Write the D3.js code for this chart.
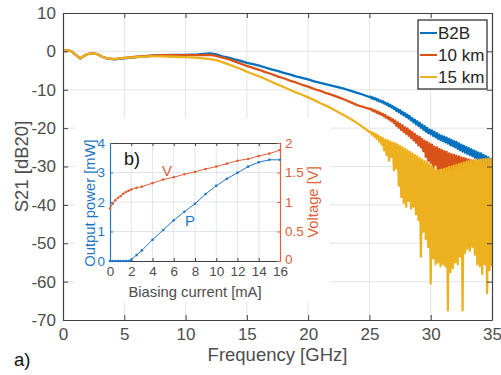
<!DOCTYPE html>
<html>
<head>
<meta charset="utf-8">
<script src="https://cdn.jsdelivr.net/npm/d3@7"></script>
<style>
body { margin: 0; background: #fff; }
svg { display: block; }
text { font-family: "Liberation Sans", Arial, sans-serif; }
</style>
</head>
<body>
<div id="chart"></div>
<script>
// ---- main plot data (S21 vs frequency) ----
const seriesNames = ['B2B', '10 km', '15 km'];
const seriesColors = ['#0072BD', '#D95319', '#EDB120'];

const freqLow = [0, 0.3, 0.7, 1.0, 1.4, 1.7, 2.0, 2.4, 2.8, 3.2, 3.6, 4.2, 5, 6, 7, 8, 9, 10, 11, 12, 12.5, 13, 13.5, 14, 14.5,
    15, 15.5, 16, 16.5, 17, 17.5, 18, 18.5, 19, 19.5, 20, 20.5, 21, 21.5, 22, 22.5, 23, 23.5, 24, 24.5, 25];
const b2bLow = [0.2, 0.3, 0, -0.8, -1.9, -1.2, -0.7, -0.5, -0.7, -1.4, -1.9, -2.1, -1.8, -1.5, -1.2, -1.0, -0.9, -0.9, -0.8, -0.5, -0.8, -1.3, -1.6, -2.1, -2.5,
    -3.0, -3.3, -3.7, -4.2, -4.7, -5.1, -5.6, -6.0, -6.5, -6.9, -7.3, -7.8, -8.2, -8.6, -9.0, -9.4, -9.8, -10.3, -10.8, -11.3, -11.9];
const km10Low = [0.2, 0.3, 0, -0.8, -1.8, -1.2, -0.7, -0.5, -0.7, -1.4, -1.8, -2.0, -1.7, -1.4, -1.2, -1.0, -1.0, -1.0, -1.0, -0.9, -1.2, -1.6, -2.0, -2.6, -3.2,
    -3.8, -4.3, -4.8, -5.4, -5.9, -6.5, -7.0, -7.6, -8.1, -8.7, -9.2, -9.8, -10.3, -10.9, -11.4, -12.0, -12.6, -13.3, -14.0, -14.5, -15.0];
const km15Low = [0.2, 0.3, 0, -0.8, -1.8, -1.2, -0.7, -0.5, -0.7, -1.4, -1.8, -2.0, -1.7, -1.5, -1.3, -1.3, -1.4, -1.5, -1.7, -2.0, -2.3, -2.8, -3.4, -4.0, -4.6,
    -5.3, -5.9, -6.5, -7.2, -7.9, -8.6, -9.3, -10.0, -10.7, -11.3, -12.0, -12.7, -13.5, -14.2, -15.0, -15.9, -16.8, -17.7, -18.7, -19.8, -21.0];

// 25.1 .. 35.0 GHz, 0.1 GHz measurement grid (noisy part)
const freqHigh = d3.range(251, 351).map(d => d / 10);
const b2bHigh = [
    -11.8, -12.3, -12.0, -12.5, -12.2, -12.8, -12.5, -13.0, -12.8, -13.3,
    -13.0, -13.6, -13.3, -13.9, -13.6, -14.3, -13.9, -14.6, -14.3, -15.0,
    -14.6, -15.5, -15.0, -15.9, -15.3, -16.3, -15.8, -16.7, -16.1, -17.1,
    -16.5, -17.5, -16.9, -18.0, -17.4, -18.5, -17.8, -19.0, -18.2, -19.4,
    -18.6, -19.9, -19.1, -20.4, -19.5, -20.9, -19.9, -21.3, -20.4, -21.6,
    -20.6, -22.0, -21.0, -22.4, -21.3, -22.8, -21.7, -23.1, -22.0, -23.4,
    -22.2, -23.7, -22.5, -24.0, -22.8, -24.4, -23.1, -24.7, -23.4, -25.0,
    -23.6, -25.4, -24.0, -25.8, -24.3, -26.1, -24.6, -26.4, -24.9, -26.7,
    -25.2, -27.0, -25.5, -27.3, -25.8, -27.7, -26.1, -28.0, -26.4, -28.3,
    -26.6, -28.7, -27.0, -29.1, -27.3, -29.5, -27.6, -29.9, -28.0, -30.3];
const km10High = [
    -14.9, -15.4, -15.2, -15.7, -15.4, -16.0, -15.7, -16.3, -16.0, -16.6,
    -16.3, -17.0, -16.6, -17.4, -17.0, -17.8, -17.3, -18.2, -17.7, -18.7,
    -18.0, -19.4, -18.5, -19.9, -18.9, -20.5, -19.3, -21.0, -19.8, -21.5,
    -20.1, -22.0, -20.6, -22.6, -21.0, -23.2, -21.5, -23.8, -22.0, -24.5,
    -22.3, -25.0, -22.8, -26.0, -23.3, -27.5, -23.6, -28.5, -24.0, -29.0,
    -24.3, -31.5, -24.8, -29.5, -25.0, -33.0, -25.4, -30.5, -25.7, -32.0,
    -26.0, -31.5, -26.2, -33.5, -26.6, -31.0, -26.8, -34.0, -27.0, -32.5,
    -27.2, -34.5, -27.4, -32.0, -27.6, -35.5, -27.8, -33.0, -28.0, -34.5,
    -28.2, -33.5, -28.4, -36.0, -28.5, -34.0, -28.7, -35.0, -28.9, -36.5,
    -29.0, -34.0, -29.2, -36.0, -29.4, -35.0, -29.6, -37.0, -29.8, -46.0];
const km15High = [
    -20.9, -21.7, -21.2, -22.2, -21.5, -22.8, -21.9, -23.5, -22.3, -24.3,
    -22.6, -25.8, -23.0, -27.0, -23.2, -28.5, -23.5, -27.5, -23.8, -31.0,
    -24.0, -30.5, -24.3, -35.0, -24.6, -38.0, -25.0, -39.5, -25.4, -40.5,
    -25.8, -39.0, -26.2, -41.0, -26.6, -40.5, -27.0, -42.5, -27.4, -44.0,
    -27.8, -53.5, -28.2, -47.0, -28.6, -49.0, -29.0, -51.0, -29.4, -60.5,
    -30.0, -54.0, -30.5, -55.5, -31.0, -55.0, -31.0, -56.0, -30.8, -55.5,
    -30.6, -56.0, -30.4, -67.5, -30.2, -57.5, -30.0, -56.5, -29.8, -55.0,
    -29.6, -55.5, -29.4, -53.5, -29.2, -67.5, -29.0, -52.5, -28.8, -51.5,
    -28.6, -52.0, -28.5, -51.0, -28.4, -53.0, -28.3, -55.5, -28.2, -56.0,
    -28.2, -58.0, -28.1, -55.5, -28.0, -63.0, -28.0, -57.0, -28.1, -56.0];

const xTicks = [0, 5, 10, 15, 20, 25, 30, 35];
const yTicks = [-70, -60, -50, -40, -30, -20, -10, 0, 10];
const yTickLabels = ['-70', '-60', '-50', '-40', '-30', '-20', '-10', '0', '10'];

// ---- inset data (L-I-V) ----
const biasCurrent = [0, 0.25, 0.5, 0.75, 1, 1.25, 1.5, 1.75, 2, 2.5, 3, 4, 5, 6, 7, 8, 9, 10, 11, 12, 13, 14, 15, 16];
const outputPower = [0, 0, 0, 0, 0, 0, 0, 0, 0.04, 0.2, 0.36, 0.72, 1.05, 1.38, 1.67, 1.94, 2.27, 2.55, 2.79, 2.99, 3.2, 3.35, 3.43, 3.43];
const voltage = [0.89, 0.97, 1.03, 1.07, 1.10, 1.14, 1.17, 1.19, 1.21, 1.24, 1.26, 1.32, 1.38, 1.42, 1.47, 1.51, 1.56, 1.60, 1.65, 1.70, 1.73, 1.78, 1.82, 1.88];
const insetXTicks = [0, 2, 4, 6, 8, 10, 12, 14, 16];
const insetPTicks = [0, 1, 2, 3, 4];
const insetVTicks = [0, 0.5, 1, 1.5, 2];

let width = 501;
let height = 375;
let svg = d3.select('#chart')
    .append('svg')
    .attr('width', width)
    .attr('height', height);

let axisColor = '#404040';
let labelColor = '#4d4d4d';
let gridColor = '#e4e4e4';

let xScale = d3.scaleLinear().domain([0, 35]).range([63, 492]);
let yScale = d3.scaleLinear().domain([-70, 10]).range([320, 13]);

// grid
let grid = svg.append('g').classed('grid', true);
grid.selectAll('.gx').data(xTicks.slice(1, -1)).enter().append('line')
    .attr('x1', d => xScale(d)).attr('x2', d => xScale(d))
    .attr('y1', yScale(10)).attr('y2', yScale(-70))
    .attr('stroke', gridColor).attr('stroke-width', 1);
grid.selectAll('.gy').data(yTicks.slice(1, -1)).enter().append('line')
    .attr('x1', xScale(0)).attr('x2', xScale(35))
    .attr('y1', d => yScale(d)).attr('y2', d => yScale(d))
    .attr('stroke', gridColor).attr('stroke-width', 1);

// series
svg.append('clipPath').attr('id', 'plotClip')
    .append('rect')
    .attr('x', xScale(0)).attr('y', yScale(10))
    .attr('width', xScale(35) - xScale(0)).attr('height', yScale(-70) - yScale(10));

let lowValues = [b2bLow, km10Low, km15Low];
let highValues = [b2bHigh, km10High, km15High];
let series = seriesNames.map((name, i) => ({
    name: name,
    color: seriesColors[i],
    points: freqLow.map((f, j) => [f, lowValues[i][j]])
        .concat(freqHigh.map((f, j) => [f, highValues[i][j]]))
}));

let lineGenerator = d3.line()
    .x(d => xScale(d[0]))
    .y(d => yScale(d[1]));

svg.append('g')
    .attr('clip-path', 'url(#plotClip)')
    .selectAll('path')
    .data(series)
    .enter()
    .append('path')
    .attr('d', d => lineGenerator(d.points))
    .attr('fill', 'none')
    .attr('stroke', d => d.color)
    .attr('stroke-width', 2.3)
    .attr('stroke-linejoin', 'round');

// axes
function styleAxis(g, fontSize) {
    g.select('.domain').attr('stroke', axisColor).attr('stroke-width', 1.2);
    g.selectAll('.tick line').attr('stroke', axisColor);
    g.selectAll('.tick text').attr('fill', labelColor).style('font-size', fontSize + 'px')
        .style('font-family', '"Liberation Sans", Arial, sans-serif');
}

let xAxis = d3.axisBottom(xScale).tickValues(xTicks).tickFormat(d3.format('d'))
    .tickSizeInner(-5).tickSizeOuter(0).tickPadding(8);
svg.append('g').attr('transform', `translate(0,${yScale(-70)})`).call(xAxis).call(g => styleAxis(g, 17));

let xAxisTop = d3.axisTop(xScale).tickValues(xTicks).tickFormat('')
    .tickSizeInner(-5).tickSizeOuter(0);
svg.append('g').attr('transform', `translate(0,${yScale(10)})`).call(xAxisTop).call(g => styleAxis(g, 17));

let yAxis = d3.axisLeft(yScale).tickValues(yTicks).tickFormat((d, i) => yTickLabels[i])
    .tickSizeInner(-5).tickSizeOuter(0).tickPadding(7);
svg.append('g').attr('transform', `translate(${xScale(0)},0)`).call(yAxis).call(g => styleAxis(g, 17));

let yAxisRight = d3.axisRight(yScale).tickValues(yTicks).tickFormat('')
    .tickSizeInner(-5).tickSizeOuter(0);
svg.append('g').attr('transform', `translate(${xScale(35)},0)`).call(yAxisRight).call(g => styleAxis(g, 17));

// axis labels
svg.append('text')
    .attr('x', (xScale(0) + xScale(35)) / 2).attr('y', 361)
    .attr('text-anchor', 'middle').attr('fill', labelColor)
    .style('font-size', '18.5px')
    .text('Frequency [GHz]');
svg.append('text')
    .attr('transform', `translate(28,${(yScale(10) + yScale(-70)) / 2}) rotate(-90)`)
    .attr('text-anchor', 'middle').attr('fill', labelColor)
    .style('font-size', '18.5px')
    .text('S21 [dB20]');
svg.append('text')
    .attr('x', 14).attr('y', 366)
    .attr('fill', '#111').style('font-size', '18.5px')
    .text('a)');

// legend
let legend = svg.append('g').classed('legend', true);
legend.append('rect')
    .attr('x', 418).attr('y', 20).attr('width', 69).attr('height', 69)
    .attr('fill', '#fff').attr('stroke', '#262626').attr('stroke-width', 1.2);
let legendItems = legend.selectAll('.item').data(series).enter().append('g')
    .attr('transform', (d, i) => `translate(0,${33 + i * 22})`);
legendItems.append('line')
    .attr('x1', 420).attr('x2', 437).attr('y1', 0).attr('y2', 0)
    .attr('stroke', d => d.color).attr('stroke-width', 2);
legendItems.append('text')
    .attr('x', 438).attr('y', 6)
    .attr('fill', '#262626').style('font-size', '17px')
    .text(d => d.name);

// ---- inset ----
let inset = svg.append('g').classed('inset', true);
inset.append('rect')
    .attr('x', 75).attr('y', 118).attr('width', 255).attr('height', 184)
    .attr('fill', '#fff');

let ix = d3.scaleLinear().domain([0, 16]).range([110, 280]);
let iyP = d3.scaleLinear().domain([0, 4]).range([261, 143]);
let iyV = d3.scaleLinear().domain([0, 2]).range([261, 143]);
let blue = '#1f77c4';
let orange = '#E0603A';
let insetGrid = '#dfe5ee';

inset.selectAll('.igx').data(insetXTicks.slice(1, -1)).enter().append('line')
    .attr('x1', d => ix(d)).attr('x2', d => ix(d)).attr('y1', iyP(4)).attr('y2', iyP(0))
    .attr('stroke', insetGrid);
inset.selectAll('.igy').data(insetPTicks.slice(1, -1)).enter().append('line')
    .attr('x1', ix(0)).attr('x2', ix(16)).attr('y1', d => iyP(d)).attr('y2', d => iyP(d))
    .attr('stroke', insetGrid);

let ixAxis = d3.axisBottom(ix).tickValues(insetXTicks).tickFormat(d3.format('d'))
    .tickSizeInner(-3).tickSizeOuter(0).tickPadding(5);
inset.append('g').attr('transform', `translate(0,${iyP(0)})`).call(ixAxis).call(g => styleAxis(g, 13.5));
let ixAxisTop = d3.axisTop(ix).tickValues(insetXTicks).tickFormat('')
    .tickSizeInner(-3).tickSizeOuter(0);
inset.append('g').attr('transform', `translate(0,${iyP(4)})`).call(ixAxisTop).call(g => styleAxis(g, 13.5));

let iyAxisL = d3.axisLeft(iyP).tickValues(insetPTicks).tickFormat(d3.format('d'))
    .tickSizeInner(-3).tickSizeOuter(0).tickPadding(5);
inset.append('g').attr('transform', `translate(${ix(0)},0)`).call(iyAxisL)
    .call(g => {
        styleAxis(g, 13.5);
        g.select('.domain').attr('stroke', blue);
        g.selectAll('.tick line').attr('stroke', blue);
        g.selectAll('.tick text').attr('fill', blue);
    });
let iyAxisR = d3.axisRight(iyV).tickValues(insetVTicks).tickFormat(d => d3.format('')(d))
    .tickSizeInner(-3).tickSizeOuter(0).tickPadding(5);
inset.append('g').attr('transform', `translate(${ix(16)},0)`).call(iyAxisR)
    .call(g => {
        styleAxis(g, 13.5);
        g.select('.domain').attr('stroke', orange);
        g.selectAll('.tick line').attr('stroke', orange);
        g.selectAll('.tick text').attr('fill', orange);
        g.selectAll('.tick text').filter(d => d === 0).attr('dy', '0.2em');
    });

let pLine = d3.line().x((d, i) => ix(biasCurrent[i])).y(d => iyP(d));
let vLine = d3.line().x((d, i) => ix(biasCurrent[i])).y(d => iyV(d));
inset.append('path').attr('d', pLine(outputPower))
    .attr('fill', 'none').attr('stroke', blue).attr('stroke-width', 1);
inset.append('path').attr('d', vLine(voltage))
    .attr('fill', 'none').attr('stroke', orange).attr('stroke-width', 1);
inset.selectAll('.pdot').data(outputPower).enter().append('circle')
    .attr('cx', (d, i) => ix(biasCurrent[i])).attr('cy', d => iyP(d)).attr('r', 1.3)
    .attr('fill', blue);
inset.selectAll('.vdot').data(voltage).enter().append('circle')
    .attr('cx', (d, i) => ix(biasCurrent[i])).attr('cy', d => iyV(d)).attr('r', 1.3)
    .attr('fill', orange);

inset.append('text')
    .attr('x', (ix(0) + ix(16)) / 2).attr('y', 297)
    .attr('text-anchor', 'middle').attr('fill', labelColor).style('font-size', '14.8px')
    .text('Biasing current [mA]');
inset.append('text')
    .attr('transform', `translate(95,${(iyP(0) + iyP(4)) / 2 + 1}) rotate(-90)`)
    .attr('text-anchor', 'middle').attr('fill', blue).style('font-size', '14.8px')
    .text('Output power [mW]');
inset.append('text')
    .attr('transform', `translate(318,${(iyP(0) + iyP(4)) / 2}) rotate(-90)`)
    .attr('text-anchor', 'middle').attr('fill', orange).style('font-size', '14.8px')
    .text('Voltage [V]');
inset.append('text')
    .attr('x', 124).attr('y', 165)
    .attr('fill', '#111').style('font-size', '18px')
    .text('b)');
inset.append('text')
    .attr('x', 167).attr('y', 176).attr('text-anchor', 'middle')
    .attr('fill', orange).style('font-size', '15px')
    .text('V');
inset.append('text')
    .attr('x', 190).attr('y', 226).attr('text-anchor', 'middle')
    .attr('fill', blue).style('font-size', '15px')
    .text('P');
</script>
</body>
</html>
